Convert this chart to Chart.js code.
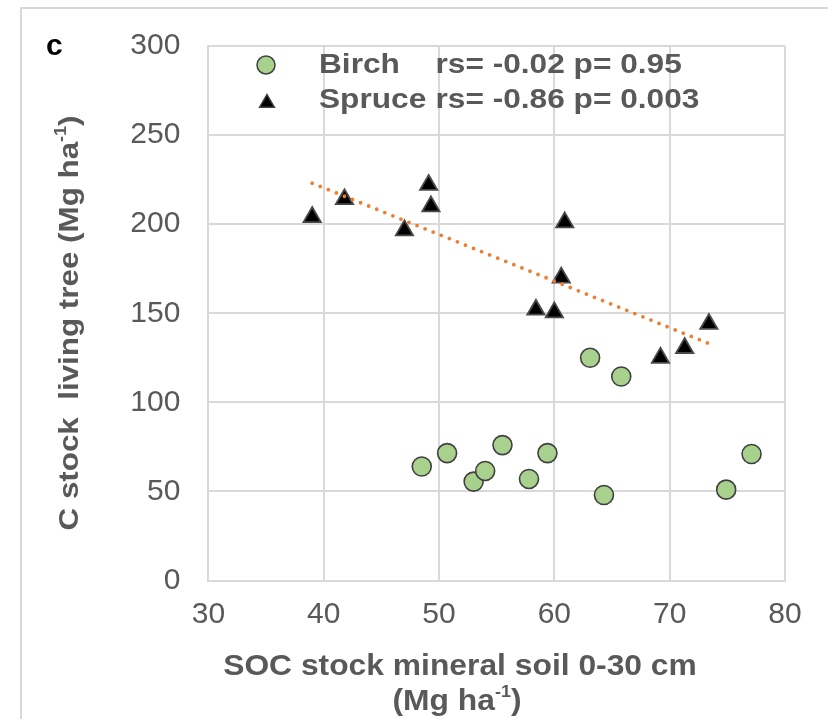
<!DOCTYPE html>
<html lang="en">
<head>
<meta charset="UTF-8">
<title>C stock living tree vs SOC stock mineral soil</title>
<style>
  body { margin: 0; padding: 0; background: #fff; }
  #wrap { width: 828px; height: 719px; }
</style>
</head>
<body>
<div id="wrap"><canvas id="socChart" width="828" height="719"></canvas></div>

<script src="https://cdn.jsdelivr.net/npm/chart.js"></script>
<script>
// Birch plots: SOC stock (x) and C stock in living trees (y)
const birchSoc  = [48.5, 50.7, 53.0, 54.0, 55.5, 57.8, 59.4, 63.1, 64.3, 65.8, 74.9, 77.1];
const birchTree = [64, 71.5, 55.5, 61.5, 76, 57, 71.5, 125, 48, 114.5, 51, 71];

// Spruce plots
const spruceSoc  = [39.0, 41.8, 47.0, 49.1, 49.3, 58.4, 60.0, 60.6, 60.9, 69.2, 71.3, 73.4];
const spruceTree = [204, 214, 196.5, 222, 210, 152, 150.5, 170, 201, 125, 130.5, 144];

// Spruce linear trend, end points
const trendSoc  = [39.0, 73.4];
const trendTree = [223, 133];

const seriesNames = ['Birch', 'Spruce'];
const seriesStats = ['rs= -0.02 p= 0.95', 'rs= -0.86 p= 0.003'];
const xTicks = [30, 40, 50, 60, 70, 80];
const yTicks = [0, 50, 100, 150, 200, 250, 300];

const FONT = "'Liberation Sans', Arial, sans-serif";
const GREY = '#595959';
const GRID = '#d9d9d9';

const toPoints = (xs, ys) => xs.map((x, i) => ({ x: x, y: ys[i] }));

// draws a run of text pieces, some of them superscript, stretched a little sideways
function drawRich(ctx, parts, size, sx, align) {
    const sup = Math.round(size * 0.58);
    let total = 0;
    const widths = parts.map(p => {
        ctx.font = 'bold ' + (p.sup ? sup : size) + 'px ' + FONT;
        const w = ctx.measureText(p.t).width;
        total += w;
        return w;
    });
    ctx.scale(sx, 1);
    let x = align === 'center' ? -total / 2 : 0;
    parts.forEach((p, i) => {
        ctx.font = 'bold ' + (p.sup ? sup : size) + 'px ' + FONT;
        ctx.fillText(p.t, x, p.sup ? -size * 0.42 : 0);
        x += widths[i];
    });
}

function triangle(ctx, x, y, r) {
    ctx.beginPath();
    ctx.moveTo(x, y - r);
    ctx.lineTo(x + r * 0.866, y + r * 0.5);
    ctx.lineTo(x - r * 0.866, y + r * 0.5);
    ctx.closePath();
}

const decor = {
    id: 'decor',
    beforeDraw(chart) {
        const ctx = chart.ctx;
        ctx.save();
        ctx.fillStyle = '#fff';
        ctx.fillRect(0, 0, chart.width, chart.height);
        // outer figure frame (top and left edges visible)
        ctx.strokeStyle = GRID;
        ctx.lineWidth = 2;
        ctx.beginPath();
        ctx.moveTo(21, chart.height);
        ctx.lineTo(21, 8);
        ctx.lineTo(chart.width, 8);
        ctx.stroke();
        ctx.restore();
    },
    afterDraw(chart) {
        const ctx = chart.ctx;
        ctx.save();
        ctx.textBaseline = 'alphabetic';

        // panel letter
        ctx.fillStyle = '#000';
        ctx.font = 'bold 30px ' + FONT;
        ctx.fillText('c', 46, 55);

        ctx.fillStyle = GREY;

        // y axis title
        ctx.save();
        ctx.translate(78, 323);
        ctx.rotate(-Math.PI / 2);
        drawRich(ctx, [{ t: 'C stock  living tree (Mg ha' }, { t: '-1', sup: true }, { t: ')' }], 28, 1.12, 'center');
        ctx.restore();

        // x axis title, two lines
        ctx.save();
        ctx.translate(460, 675);
        drawRich(ctx, [{ t: 'SOC stock mineral soil 0-30 cm' }], 30, 1.06, 'center');
        ctx.restore();
        ctx.save();
        ctx.translate(457, 710);
        drawRich(ctx, [{ t: '(Mg ha' }, { t: '-1', sup: true }, { t: ')' }], 30, 1.06, 'center');
        ctx.restore();

        // legend inside the plot
        const rows = [73, 108];
        ctx.lineWidth = 1.5;
        ctx.strokeStyle = '#404040';
        ctx.fillStyle = '#a9d18e';
        ctx.beginPath();
        ctx.arc(266, 65, 9, 0, Math.PI * 2);
        ctx.fill();
        ctx.stroke();
        ctx.fillStyle = '#000';
        triangle(ctx, 267, 103, 8.5);
        ctx.fill();
        ctx.stroke();

        ctx.fillStyle = GREY;
        seriesNames.forEach((name, i) => {
            ctx.save();
            ctx.translate(319, rows[i]);
            drawRich(ctx, [{ t: name }], 28, 1.13, 'left');
            ctx.restore();
            ctx.save();
            ctx.translate(435.5, rows[i]);
            drawRich(ctx, [{ t: seriesStats[i] }], 28, 1.13, 'left');
            ctx.restore();
        });
        ctx.restore();
    }
};

const ctx = document.getElementById('socChart').getContext('2d');
const socChart = new Chart(ctx, {
    type: 'scatter',
    data: {
        datasets: [
            {
                label: 'Spruce trend',
                data: toPoints(trendSoc, trendTree),
                showLine: true,
                borderColor: '#ed7d31',
                borderWidth: 3.8,
                borderDash: [0, 8.7],
                borderCapStyle: 'round',
                pointRadius: 0,
                order: 0
            },
            {
                label: seriesNames[1],
                data: toPoints(spruceSoc, spruceTree),
                pointStyle: 'triangle',
                pointRadius: 10,
                backgroundColor: '#000',
                borderColor: '#4a4a4a',
                borderWidth: 1.8,
                order: 1
            },
            {
                label: seriesNames[0],
                data: toPoints(birchSoc, birchTree),
                pointStyle: 'circle',
                pointRadius: 9.5,
                backgroundColor: '#a9d18e',
                borderColor: '#404040',
                borderWidth: 1.6,
                order: 2
            }
        ]
    },
    options: {
        responsive: false,
        animation: false,
        layout: { padding: { left: 0, top: 42.5, right: 43, bottom: 0 } },
        plugins: {
            legend: { display: false },
            tooltip: { enabled: false }
        },
        scales: {
            x: {
                type: 'linear',
                min: 30,
                max: 80,
                afterBuildTicks: axis => { axis.ticks = xTicks.map(v => ({ value: v })); },
                afterFit: axis => { axis.height = 138.5; },
                ticks: {
                    color: GREY,
                    padding: 16,
                    font: { family: FONT, size: 30 }
                },
                grid: { color: GRID, lineWidth: 2, drawTicks: false },
                border: { color: GRID, width: 2 }
            },
            y: {
                type: 'linear',
                min: 0,
                max: 300,
                afterBuildTicks: axis => { axis.ticks = yTicks.map(v => ({ value: v })); },
                afterFit: axis => { axis.width = 208.4; },
                ticks: {
                    color: GREY,
                    padding: 28,
                    font: { family: FONT, size: 30 }
                },
                grid: { color: GRID, lineWidth: 2, drawTicks: false },
                border: { color: GRID, width: 2 }
            }
        }
    },
    plugins: [decor]
});
</script>
</body>
</html>
